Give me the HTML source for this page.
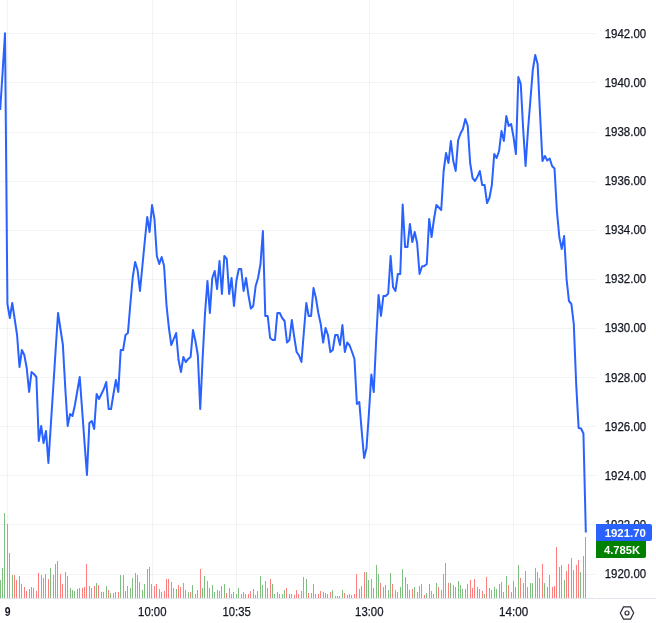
<!DOCTYPE html>
<html lang="en"><head><meta charset="utf-8"><title>Chart</title>
<style>
html,body{margin:0;padding:0;background:#fff;}
body{width:656px;height:623px;overflow:hidden;font-family:"Liberation Sans",sans-serif;}
svg{display:block}
text{font-family:"Liberation Sans",sans-serif;font-size:12px;fill:#131722;stroke:#131722;stroke-width:0.25px;}
.vl{fill:#fff;font-weight:bold;font-size:11.7px;stroke:none;}
.b{font-weight:bold;stroke:none;}
</style></head><body>
<svg width="656" height="623" viewBox="0 0 656 623">
<rect width="656" height="623" fill="#fff"/>
<g fill="#2a2e39" fill-opacity="0.06" shape-rendering="crispEdges">
<rect x="7" y="0" width="1" height="598"/>
<rect x="152" y="0" width="1" height="598"/>
<rect x="236" y="0" width="1" height="598"/>
<rect x="369" y="0" width="1" height="598"/>
<rect x="513" y="0" width="1" height="598"/>
<rect x="0" y="33" width="596" height="1"/>
<rect x="0" y="82" width="596" height="1"/>
<rect x="0" y="132" width="596" height="1"/>
<rect x="0" y="181" width="596" height="1"/>
<rect x="0" y="230" width="596" height="1"/>
<rect x="0" y="279" width="596" height="1"/>
<rect x="0" y="328" width="596" height="1"/>
<rect x="0" y="377" width="596" height="1"/>
<rect x="0" y="426" width="596" height="1"/>
<rect x="0" y="475" width="596" height="1"/>
<rect x="0" y="524" width="596" height="1"/>
<rect x="0" y="574" width="596" height="1"/>
</g>
<g fill="#7fbf7f" shape-rendering="crispEdges"><rect x="0" y="580" width="1" height="18"/><rect x="2" y="568" width="1" height="30"/><rect x="4" y="513" width="1" height="85"/><rect x="12" y="575" width="1" height="23"/><rect x="21" y="584" width="1" height="14"/><rect x="31" y="587" width="1" height="11"/><rect x="41" y="575" width="1" height="23"/><rect x="45" y="574" width="1" height="24"/><rect x="50" y="568" width="1" height="30"/><rect x="53" y="575" width="1" height="23"/><rect x="55" y="564" width="1" height="34"/><rect x="57" y="561" width="1" height="37"/><rect x="70" y="588" width="1" height="10"/><rect x="72" y="590" width="1" height="8"/><rect x="74" y="591" width="1" height="7"/><rect x="77" y="589" width="1" height="9"/><rect x="79" y="588" width="1" height="10"/><rect x="89" y="586" width="1" height="12"/><rect x="91" y="588" width="1" height="10"/><rect x="96" y="583" width="1" height="15"/><rect x="101" y="592" width="1" height="6"/><rect x="103" y="592" width="1" height="6"/><rect x="106" y="586" width="1" height="12"/><rect x="110" y="593" width="1" height="5"/><rect x="113" y="593" width="1" height="5"/><rect x="115" y="592" width="1" height="6"/><rect x="120" y="575" width="1" height="23"/><rect x="125" y="591" width="1" height="7"/><rect x="127" y="586" width="1" height="12"/><rect x="130" y="588" width="1" height="10"/><rect x="132" y="578" width="1" height="20"/><rect x="135" y="573" width="1" height="25"/><rect x="142" y="590" width="1" height="8"/><rect x="144" y="584" width="1" height="14"/><rect x="147" y="569" width="1" height="29"/><rect x="151" y="584" width="1" height="14"/><rect x="161" y="592" width="1" height="6"/><rect x="173" y="588" width="1" height="10"/><rect x="176" y="589" width="1" height="9"/><rect x="183" y="583" width="1" height="15"/><rect x="188" y="592" width="1" height="6"/><rect x="192" y="585" width="1" height="13"/><rect x="202" y="588" width="1" height="10"/><rect x="204" y="576" width="1" height="22"/><rect x="207" y="581" width="1" height="17"/><rect x="212" y="585" width="1" height="13"/><rect x="214" y="592" width="1" height="6"/><rect x="219" y="591" width="1" height="7"/><rect x="224" y="584" width="1" height="14"/><rect x="231" y="594" width="1" height="4"/><rect x="236" y="594" width="1" height="4"/><rect x="238" y="588" width="1" height="10"/><rect x="241" y="594" width="1" height="4"/><rect x="245" y="594" width="1" height="4"/><rect x="253" y="589" width="1" height="9"/><rect x="255" y="595" width="1" height="3"/><rect x="257" y="591" width="1" height="7"/><rect x="260" y="576" width="1" height="22"/><rect x="262" y="585" width="1" height="13"/><rect x="272" y="584" width="1" height="14"/><rect x="274" y="594" width="1" height="4"/><rect x="277" y="592" width="1" height="6"/><rect x="279" y="594" width="1" height="4"/><rect x="282" y="594" width="1" height="4"/><rect x="284" y="590" width="1" height="8"/><rect x="289" y="594" width="1" height="4"/><rect x="291" y="594" width="1" height="4"/><rect x="303" y="577" width="1" height="21"/><rect x="306" y="579" width="1" height="19"/><rect x="311" y="593" width="1" height="5"/><rect x="313" y="584" width="1" height="14"/><rect x="325" y="593" width="1" height="5"/><rect x="332" y="590" width="1" height="8"/><rect x="335" y="596" width="1" height="2"/><rect x="337" y="596" width="1" height="2"/><rect x="342" y="590" width="1" height="8"/><rect x="347" y="595" width="1" height="3"/><rect x="359" y="589" width="1" height="9"/><rect x="366" y="572" width="1" height="26"/><rect x="368" y="580" width="1" height="18"/><rect x="371" y="579" width="1" height="19"/><rect x="376" y="565" width="1" height="33"/><rect x="378" y="574" width="1" height="24"/><rect x="383" y="587" width="1" height="11"/><rect x="388" y="590" width="1" height="8"/><rect x="390" y="573" width="1" height="25"/><rect x="397" y="592" width="1" height="6"/><rect x="400" y="587" width="1" height="11"/><rect x="402" y="569" width="1" height="29"/><rect x="407" y="584" width="1" height="14"/><rect x="409" y="590" width="1" height="8"/><rect x="414" y="587" width="1" height="11"/><rect x="421" y="584" width="1" height="14"/><rect x="426" y="593" width="1" height="5"/><rect x="429" y="584" width="1" height="14"/><rect x="433" y="594" width="1" height="4"/><rect x="436" y="583" width="1" height="15"/><rect x="443" y="574" width="1" height="24"/><rect x="445" y="563" width="1" height="35"/><rect x="450" y="583" width="1" height="15"/><rect x="458" y="581" width="1" height="17"/><rect x="460" y="585" width="1" height="13"/><rect x="462" y="589" width="1" height="9"/><rect x="465" y="589" width="1" height="9"/><rect x="477" y="587" width="1" height="11"/><rect x="479" y="589" width="1" height="9"/><rect x="484" y="594" width="1" height="4"/><rect x="489" y="588" width="1" height="10"/><rect x="491" y="590" width="1" height="8"/><rect x="494" y="587" width="1" height="11"/><rect x="496" y="589" width="1" height="9"/><rect x="499" y="584" width="1" height="14"/><rect x="501" y="582" width="1" height="16"/><rect x="506" y="576" width="1" height="22"/><rect x="511" y="592" width="1" height="6"/><rect x="518" y="565" width="1" height="33"/><rect x="527" y="587" width="1" height="11"/><rect x="530" y="583" width="1" height="15"/><rect x="532" y="583" width="1" height="15"/><rect x="535" y="568" width="1" height="30"/><rect x="544" y="583" width="1" height="15"/><rect x="549" y="575" width="1" height="23"/><rect x="564" y="580" width="1" height="18"/><rect x="580" y="572" width="1" height="26"/><rect x="585" y="537" width="1" height="61"/></g>
<g fill="#ff7f7f" shape-rendering="crispEdges"><rect x="7" y="524" width="1" height="74"/><rect x="9" y="553" width="1" height="45"/><rect x="14" y="575" width="1" height="23"/><rect x="16" y="580" width="1" height="18"/><rect x="19" y="576" width="1" height="22"/><rect x="24" y="587" width="1" height="11"/><rect x="26" y="591" width="1" height="7"/><rect x="29" y="589" width="1" height="9"/><rect x="33" y="588" width="1" height="10"/><rect x="36" y="591" width="1" height="7"/><rect x="38" y="573" width="1" height="25"/><rect x="43" y="578" width="1" height="20"/><rect x="48" y="579" width="1" height="19"/><rect x="60" y="574" width="1" height="24"/><rect x="62" y="584" width="1" height="14"/><rect x="65" y="572" width="1" height="26"/><rect x="67" y="576" width="1" height="22"/><rect x="82" y="588" width="1" height="10"/><rect x="84" y="587" width="1" height="11"/><rect x="86" y="564" width="1" height="34"/><rect x="94" y="586" width="1" height="12"/><rect x="98" y="585" width="1" height="13"/><rect x="108" y="590" width="1" height="8"/><rect x="118" y="592" width="1" height="6"/><rect x="123" y="575" width="1" height="23"/><rect x="137" y="575" width="1" height="23"/><rect x="139" y="582" width="1" height="16"/><rect x="149" y="567" width="1" height="31"/><rect x="154" y="586" width="1" height="12"/><rect x="156" y="584" width="1" height="14"/><rect x="159" y="589" width="1" height="9"/><rect x="164" y="591" width="1" height="7"/><rect x="166" y="579" width="1" height="19"/><rect x="168" y="579" width="1" height="19"/><rect x="171" y="582" width="1" height="16"/><rect x="178" y="585" width="1" height="13"/><rect x="180" y="587" width="1" height="11"/><rect x="185" y="590" width="1" height="8"/><rect x="190" y="592" width="1" height="6"/><rect x="195" y="594" width="1" height="4"/><rect x="197" y="590" width="1" height="8"/><rect x="200" y="569" width="1" height="29"/><rect x="209" y="588" width="1" height="10"/><rect x="217" y="590" width="1" height="8"/><rect x="221" y="586" width="1" height="12"/><rect x="226" y="593" width="1" height="5"/><rect x="229" y="588" width="1" height="10"/><rect x="233" y="592" width="1" height="6"/><rect x="243" y="592" width="1" height="6"/><rect x="248" y="594" width="1" height="4"/><rect x="250" y="591" width="1" height="7"/><rect x="265" y="581" width="1" height="17"/><rect x="267" y="588" width="1" height="10"/><rect x="270" y="579" width="1" height="19"/><rect x="286" y="588" width="1" height="10"/><rect x="294" y="595" width="1" height="3"/><rect x="296" y="590" width="1" height="8"/><rect x="298" y="594" width="1" height="4"/><rect x="301" y="591" width="1" height="7"/><rect x="308" y="593" width="1" height="5"/><rect x="315" y="594" width="1" height="4"/><rect x="318" y="594" width="1" height="4"/><rect x="320" y="591" width="1" height="7"/><rect x="323" y="592" width="1" height="6"/><rect x="327" y="594" width="1" height="4"/><rect x="330" y="592" width="1" height="6"/><rect x="339" y="596" width="1" height="2"/><rect x="344" y="593" width="1" height="5"/><rect x="349" y="594" width="1" height="4"/><rect x="351" y="595" width="1" height="3"/><rect x="354" y="594" width="1" height="4"/><rect x="356" y="574" width="1" height="24"/><rect x="361" y="586" width="1" height="12"/><rect x="364" y="572" width="1" height="26"/><rect x="373" y="588" width="1" height="10"/><rect x="380" y="583" width="1" height="15"/><rect x="385" y="585" width="1" height="13"/><rect x="392" y="584" width="1" height="14"/><rect x="395" y="590" width="1" height="8"/><rect x="405" y="577" width="1" height="21"/><rect x="412" y="589" width="1" height="9"/><rect x="417" y="592" width="1" height="6"/><rect x="419" y="586" width="1" height="12"/><rect x="424" y="595" width="1" height="3"/><rect x="431" y="591" width="1" height="7"/><rect x="438" y="587" width="1" height="11"/><rect x="441" y="590" width="1" height="8"/><rect x="448" y="583" width="1" height="15"/><rect x="453" y="585" width="1" height="13"/><rect x="455" y="587" width="1" height="11"/><rect x="467" y="584" width="1" height="14"/><rect x="470" y="580" width="1" height="18"/><rect x="472" y="588" width="1" height="10"/><rect x="474" y="579" width="1" height="19"/><rect x="482" y="591" width="1" height="7"/><rect x="486" y="577" width="1" height="21"/><rect x="503" y="592" width="1" height="6"/><rect x="508" y="585" width="1" height="13"/><rect x="513" y="581" width="1" height="17"/><rect x="515" y="587" width="1" height="11"/><rect x="520" y="578" width="1" height="20"/><rect x="523" y="583" width="1" height="15"/><rect x="525" y="571" width="1" height="27"/><rect x="537" y="572" width="1" height="26"/><rect x="539" y="578" width="1" height="20"/><rect x="542" y="564" width="1" height="34"/><rect x="547" y="587" width="1" height="11"/><rect x="552" y="587" width="1" height="11"/><rect x="554" y="586" width="1" height="12"/><rect x="556" y="547" width="1" height="51"/><rect x="559" y="567" width="1" height="31"/><rect x="561" y="565" width="1" height="33"/><rect x="566" y="571" width="1" height="27"/><rect x="568" y="564" width="1" height="34"/><rect x="571" y="558" width="1" height="40"/><rect x="573" y="570" width="1" height="28"/><rect x="576" y="565" width="1" height="33"/><rect x="578" y="560" width="1" height="38"/><rect x="583" y="556" width="1" height="42"/></g>
<polyline points="0.20,110.0 2.61,72.0 5.02,33.3 7.43,304.0 9.84,318.0 12.25,303.0 14.66,319.0 17.07,335.0 19.48,367.0 21.89,350.0 24.30,355.0 26.71,368.0 29.12,392.0 31.53,372.0 33.94,374.0 36.35,377.0 38.76,441.0 41.17,426.0 43.58,443.0 45.99,431.0 48.40,463.0 50.81,425.0 53.22,388.0 55.63,350.0 58.04,313.0 60.45,329.0 62.86,344.5 65.27,388.0 67.68,426.0 70.09,414.0 72.50,416.0 74.91,405.0 77.32,391.0 79.73,377.0 82.14,410.0 84.55,443.0 86.96,475.0 89.37,423.0 91.78,421.0 94.19,429.0 96.60,394.0 99.01,399.0 101.42,394.0 103.83,389.0 106.24,382.0 108.65,409.0 111.06,409.0 113.47,394.0 115.88,380.0 118.29,392.0 120.70,350.0 123.11,350.0 125.52,335.0 127.93,333.0 130.34,304.0 132.75,277.0 135.16,262.0 137.57,270.0 139.98,291.0 142.39,266.0 144.80,241.0 147.21,217.0 149.62,232.0 152.03,205.0 154.44,219.0 156.85,256.0 159.26,264.0 161.67,257.0 164.08,266.0 166.49,305.0 168.90,328.0 171.31,345.0 173.72,339.0 176.13,333.0 178.54,360.0 180.95,372.0 183.36,357.0 185.77,362.0 188.18,359.0 190.59,357.0 193.00,330.0 195.41,341.0 197.82,355.0 200.23,409.0 202.64,358.0 205.05,313.0 207.46,281.0 209.87,313.0 212.28,278.0 214.69,271.0 217.10,289.0 219.51,261.0 221.92,294.0 224.33,256.0 226.74,259.0 229.15,294.0 231.56,278.0 233.97,306.0 236.38,281.0 238.79,269.0 241.20,269.0 243.61,291.0 246.02,278.0 248.43,295.0 250.84,308.5 253.25,306.0 255.66,286.0 258.07,278.0 260.48,264.0 262.89,231.0 265.30,316.0 267.71,316.0 270.12,338.0 272.53,340.0 274.94,340.0 277.35,313.0 279.76,313.0 282.17,318.0 284.58,321.0 286.99,342.5 289.40,340.0 291.81,320.0 294.22,337.0 296.63,352.0 299.04,355.5 301.45,362.0 303.86,332.0 306.27,303.0 308.68,316.0 311.09,316.0 313.50,288.0 315.91,298.0 318.32,313.0 320.73,324.0 323.14,342.5 325.55,328.0 327.96,335.0 330.37,352.0 332.78,350.0 335.19,335.0 337.60,335.0 340.01,345.0 342.42,325.0 344.83,352.0 347.24,342.5 349.65,345.5 352.06,352.0 354.47,359.0 356.88,404.0 359.29,402.0 361.70,431.0 364.11,458.0 366.52,448.0 368.93,413.0 371.34,374.5 373.75,392.0 376.16,340.0 378.57,295.0 380.98,316.0 383.39,296.0 385.80,296.0 388.21,293.5 390.62,256.0 393.03,287.0 395.44,291.0 397.85,274.0 400.26,274.0 402.67,204.5 405.08,247.0 407.49,247.0 409.90,224.0 412.31,242.0 414.72,232.0 417.13,243.0 419.54,274.0 421.95,266.5 424.36,266.0 426.77,264.0 429.18,219.0 431.59,237.0 434.00,219.0 436.41,205.0 438.82,207.5 441.23,210.0 443.64,171.0 446.05,153.0 448.46,163.0 450.87,141.0 453.28,161.0 455.69,171.0 458.10,140.5 460.51,133.5 462.92,129.0 465.33,119.0 467.74,126.0 470.15,163.0 472.56,178.0 474.97,181.0 477.38,177.0 479.79,171.0 482.20,185.0 484.61,185.0 487.02,203.0 489.43,198.0 491.84,185.0 494.25,154.0 496.66,158.0 499.07,151.0 501.48,131.0 503.89,141.0 506.30,116.0 508.71,126.0 511.12,124.0 513.53,137.0 515.94,154.0 518.35,77.0 520.76,84.0 523.17,129.0 525.58,166.0 527.99,130.0 530.40,100.0 532.81,70.0 535.22,55.0 537.63,64.0 540.04,114.0 542.45,161.0 544.86,156.0 547.27,160.5 549.68,158.5 552.09,166.0 554.50,168.5 556.91,211.0 559.32,237.0 561.73,249.0 564.14,236.0 566.55,279.0 568.96,301.0 571.37,304.0 573.78,324.0 576.19,384.0 578.60,428.0 581.01,428.5 583.42,433.5 585.83,532.6" fill="none" stroke="#2962ff" stroke-width="2" stroke-linejoin="round" stroke-linecap="butt"/>
<g fill="#e0e3eb" shape-rendering="crispEdges"><rect x="0" y="598" width="596" height="1"/><rect x="597" y="598" width="59" height="1"/></g>
<g class="pl">
<text x="604.7" y="37.70" textLength="41.5" lengthAdjust="spacingAndGlyphs">1942.00</text>
<text x="604.7" y="86.80" textLength="41.5" lengthAdjust="spacingAndGlyphs">1940.00</text>
<text x="604.7" y="136.05" textLength="41.5" lengthAdjust="spacingAndGlyphs">1938.00</text>
<text x="604.7" y="184.80" textLength="41.5" lengthAdjust="spacingAndGlyphs">1936.00</text>
<text x="604.7" y="234.05" textLength="41.5" lengthAdjust="spacingAndGlyphs">1934.00</text>
<text x="604.7" y="282.90" textLength="41.5" lengthAdjust="spacingAndGlyphs">1932.00</text>
<text x="604.7" y="332.00" textLength="41.5" lengthAdjust="spacingAndGlyphs">1930.00</text>
<text x="604.7" y="381.80" textLength="41.5" lengthAdjust="spacingAndGlyphs">1928.00</text>
<text x="604.7" y="431.05" textLength="41.5" lengthAdjust="spacingAndGlyphs">1926.00</text>
<text x="604.7" y="479.70" textLength="41.5" lengthAdjust="spacingAndGlyphs">1924.00</text>
<text x="604.7" y="528.80" textLength="41.5" lengthAdjust="spacingAndGlyphs">1922.00</text>
<text x="604.7" y="577.50" textLength="41.5" lengthAdjust="spacingAndGlyphs">1920.00</text>
</g>
<path d="M596 524 H650 A2 2 0 0 1 652 526 V539 A2 2 0 0 1 650 541 H596 Z" fill="#2962ff"/>
<path d="M596 541 H646 V556 A2 2 0 0 1 644 558 H596 Z" fill="#008000"/>
<text class="vl" x="604.7" y="536.5" textLength="41.2" lengthAdjust="spacingAndGlyphs">1921.70</text>
<text class="vl" x="604" y="553.6" textLength="36.2" lengthAdjust="spacingAndGlyphs">4.785K</text>
<text class="tl b" x="4.75" y="615.8" textLength="5.8" lengthAdjust="spacingAndGlyphs">9</text>
<text class="tl" x="138.10" y="615.8" textLength="28.4" lengthAdjust="spacingAndGlyphs">10:00</text>
<text class="tl" x="222.50" y="615.8" textLength="28.2" lengthAdjust="spacingAndGlyphs">10:35</text>
<text class="tl" x="355.10" y="615.8" textLength="28.4" lengthAdjust="spacingAndGlyphs">13:00</text>
<text class="tl" x="499.10" y="615.8" textLength="29.0" lengthAdjust="spacingAndGlyphs">14:00</text>
<g fill="none" stroke="#2a2e39" stroke-width="1.2"><path d="M620.3 613 L623.5 606.9 L630.5 606.9 L633.7 613 L630.5 619.1 L623.5 619.1 Z"/><circle cx="627" cy="613" r="2"/></g>
</svg>
</body></html>
